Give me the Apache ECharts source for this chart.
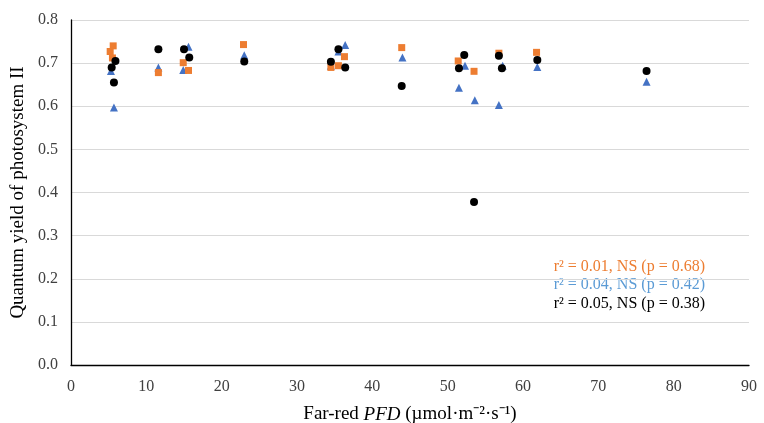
<!DOCTYPE html>
<html><head><meta charset="utf-8">
<script src="https://cdn.jsdelivr.net/npm/echarts@6/dist/echarts.min.js"></script>
<style>html,body{margin:0;padding:0;background:#fff}#c{width:764px;height:423px}</style>
</head><body><div id="c"></div>
<script>
var xTicks = [0,10,20,30,40,50,60,70,80,90];
var yTicks = [0.0,0.1,0.2,0.3,0.4,0.5,0.6,0.7,0.8];
var blueTriangles = [[5.3,0.682],[5.7,0.597],[11.6,0.690],[14.9,0.684],[15.6,0.738],[23.0,0.718],[34.5,0.694],[35.5,0.727],[36.4,0.742],[44.0,0.713],[51.5,0.643],[52.3,0.694],[53.6,0.614],[56.8,0.603],[57.3,0.694],[61.9,0.691],[76.4,0.657]];
var orangeSquares = [[5.2,0.727],[5.6,0.740],[5.5,0.712],[11.6,0.678],[14.9,0.701],[15.6,0.683],[22.9,0.743],[34.5,0.690],[35.5,0.694],[36.3,0.715],[43.9,0.736],[51.4,0.705],[53.5,0.681],[56.8,0.723],[61.8,0.725]];
var blackCircles = [[5.4,0.690],[5.9,0.705],[5.7,0.655],[11.6,0.732],[15.0,0.732],[15.7,0.713],[23.0,0.704],[34.5,0.703],[35.5,0.732],[36.4,0.690],[43.9,0.647],[51.5,0.688],[52.2,0.719],[53.5,0.378],[56.8,0.717],[57.2,0.688],[61.9,0.707],[76.4,0.682]];
var statTexts = ['r² = 0.01, NS (p = 0.68)','r² = 0.04, NS (p = 0.42)','r² = 0.05, NS (p = 0.38)'];
var statColors = ['#ED7D31','#5B9BD5','#000000'];

var serif = '"Liberation Serif","Times New Roman",serif';
var chart = echarts.init(document.getElementById('c'));
chart.setOption({
  animation:false,
  grid:{left:71,right:15,top:20,bottom:58,containLabel:false,outerBoundsMode:'none'},
  xAxis:{type:'value',min:xTicks[0],max:xTicks[xTicks.length-1],interval:10,
    axisLine:{show:true,onZero:false,lineStyle:{color:'#000',width:1.3}},
    axisTick:{show:false},splitLine:{show:false},
    axisLabel:{color:'#404040',fontFamily:serif,fontSize:16,margin:14},
    name:'{a|Far-red }{b|PFD}{a| (µmol·m⁻²·s⁻¹)}',nameLocation:'middle',nameGap:40,
    nameTextStyle:{rich:{a:{fontFamily:serif,fontSize:19,color:'#000'},b:{fontFamily:serif,fontSize:19,fontStyle:'italic',color:'#000'}}}
  },
  yAxis:{type:'value',min:yTicks[0],max:yTicks[yTicks.length-1],interval:0.1,
    axisLine:{show:true,lineStyle:{color:'#000',width:1.3}},
    axisTick:{show:false},
    splitLine:{show:true,lineStyle:{color:'#d9d9d9',width:1}},
    axisLabel:{color:'#404040',fontFamily:serif,fontSize:16,margin:13,formatter:function(v){return v.toFixed(1);}},
    name:'Quantum yield of photosystem II',nameLocation:'middle',nameGap:43,
    nameTextStyle:{fontFamily:serif,fontSize:19,color:'#000'}
  },
  series:[
    {type:'scatter',data:blueTriangles,symbol:'triangle',symbolSize:8,itemStyle:{color:'#4472C4',opacity:1},z:2},
    {type:'scatter',data:orangeSquares,symbol:'rect',symbolSize:7,itemStyle:{color:'#ED7D31',opacity:1},z:3},
    {type:'scatter',data:blackCircles,symbol:'circle',symbolSize:8,itemStyle:{color:'#000',opacity:1},z:4}
  ],
  graphic:statTexts.map(function(t,i){
    return {type:'text',right:59,top:259+i*18.2,style:{text:t,fill:statColors[i],font:'16px '+serif}};
  })
});
</script></body></html>
